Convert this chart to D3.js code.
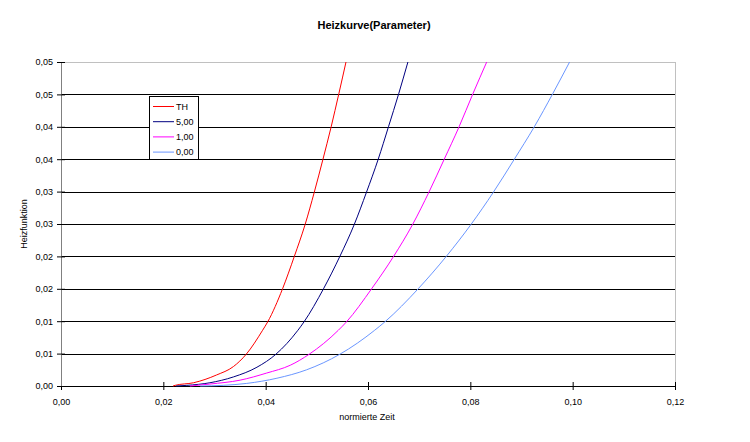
<!DOCTYPE html>
<html>
<head>
<meta charset="utf-8">
<script src="https://cdn.jsdelivr.net/npm/d3@7"></script>
<style>
  body { margin: 0; background: #ffffff; }
  text { font-family: "Liberation Sans", Arial, sans-serif; }
</style>
</head>
<body>
<div id="chart"></div>
<script>
//Data
var seriesNames = ["TH", "5,00", "1,00", "0,00"];
var seriesColors = ["#ff0000", "#000080", "#ff00ff", "#6a96ff"];

var xTH = [0.0219, 0.0223, 0.0259, 0.0304, 0.0337, 0.0362, 0.0394, 0.0404, 0.0433, 0.0456, 0.0477, 0.0495, 0.0512, 0.0528, 0.0543, 0.0557];
var yTH = [0, 0.0001, 0.0005, 0.0017, 0.0030, 0.0049, 0.0086, 0.0099, 0.0150, 0.0200, 0.0249, 0.0299, 0.0350, 0.0400, 0.0451, 0.0500];

var x500 = [0.0225, 0.0246, 0.0291, 0.0337, 0.0383, 0.0420, 0.0463, 0.0475, 0.0513, 0.0545, 0.0573, 0.0597, 0.0620, 0.0640, 0.0660, 0.0678];
var y500 = [0, 0.0001, 0.0005, 0.0014, 0.0029, 0.0049, 0.0086, 0.0099, 0.0150, 0.0200, 0.0249, 0.0299, 0.0350, 0.0400, 0.0451, 0.0500];

var x100 = [0.0252, 0.0291, 0.0350, 0.0402, 0.0448, 0.0485, 0.0542, 0.0558, 0.0607, 0.0650, 0.0687, 0.0719, 0.0749, 0.0778, 0.0805, 0.0832];
var y100 = [0, 0.0003, 0.0009, 0.0020, 0.0032, 0.0049, 0.0086, 0.0099, 0.0150, 0.0200, 0.0249, 0.0299, 0.0350, 0.0400, 0.0451, 0.0500];

var x000 = [0.0272, 0.0317, 0.0363, 0.0422, 0.0480, 0.0545, 0.0613, 0.0633, 0.0698, 0.0753, 0.0801, 0.0845, 0.0886, 0.0925, 0.0961, 0.0994];
var y000 = [0, 0.0001, 0.0004, 0.0012, 0.0025, 0.0049, 0.0086, 0.0099, 0.0150, 0.0200, 0.0249, 0.0299, 0.0350, 0.0400, 0.0451, 0.0500];

var xTicks = [0, 0.02, 0.04, 0.06, 0.08, 0.10, 0.12];
var xTickLabels = ["0,00", "0,02", "0,04", "0,06", "0,08", "0,10", "0,12"];
var yTicks = [0, 0.005, 0.01, 0.015, 0.02, 0.025, 0.03, 0.035, 0.04, 0.045, 0.05];
var yTickLabels = ["0,00", "0,01", "0,01", "0,02", "0,02", "0,03", "0,03", "0,04", "0,04", "0,05", "0,05"];

var series = [
  { name: seriesNames[0], xs: xTH, ys: yTH },
  { name: seriesNames[1], xs: x500, ys: y500 },
  { name: seriesNames[2], xs: x100, ys: y100 },
  { name: seriesNames[3], xs: x000, ys: y000 }
].map(function (s, i) {
  return { name: s.name, color: seriesColors[i], points: s.xs.map(function (x, j) { return [x, s.ys[j]]; }) };
});

var width = 750, height = 442;
var plot = { left: 61, right: 675, top: 62, bottom: 386 };

var svg = d3.select("#chart").append("svg")
  .attr("width", width)
  .attr("height", height);

var x = d3.scaleLinear().domain([0, 0.12]).range([plot.left, plot.right]);
var y = d3.scaleLinear().domain([0, 0.05]).range([plot.bottom, plot.top]);

//Plot frame and gridlines
svg.append("line")
  .attr("x1", plot.left).attr("x2", plot.right)
  .attr("y1", plot.top + 0.5).attr("y2", plot.top + 0.5)
  .attr("stroke", "#c0c0c0");
svg.append("line")
  .attr("x1", plot.right + 0.5).attr("x2", plot.right + 0.5)
  .attr("y1", plot.top).attr("y2", plot.bottom)
  .attr("stroke", "#c0c0c0");

svg.append("g")
  .selectAll("line")
  .data(yTicks.slice(1, -1)).enter()
  .append("line")
  .attr("x1", plot.left).attr("x2", plot.right)
  .attr("y1", function (d) { return Math.round(y(d)) + 0.5; })
  .attr("y2", function (d) { return Math.round(y(d)) + 0.5; })
  .attr("stroke", "#000000");

//Axes
var xAxis = d3.axisBottom(x)
  .tickValues(xTicks)
  .tickSize(4)
  .tickFormat(function (d, i) { return xTickLabels[i]; });
var gx = svg.append("g")
  .attr("transform", "translate(0," + plot.bottom + ")")
  .call(xAxis);
gx.select(".domain").attr("stroke", "#000000");
gx.selectAll(".tick line").attr("y1", -4).attr("stroke", "#000000");
gx.selectAll(".tick text")
  .attr("y", 13)
  .style("font-size", "9px")
  .style("font-family", "'Liberation Sans', Arial, sans-serif")
  .attr("fill", "#000000");

var yAxis = d3.axisLeft(y)
  .tickValues(yTicks)
  .tickSize(4)
  .tickFormat(function (d, i) { return yTickLabels[i]; });
var gy = svg.append("g")
  .attr("transform", "translate(" + plot.left + ",0)")
  .call(yAxis);
gy.select(".domain").attr("stroke", "#808080");
gy.selectAll(".tick line").attr("x1", 4).attr("stroke", "#000000");
gy.selectAll(".tick text")
  .attr("x", -8)
  .style("font-size", "9px")
  .style("font-family", "'Liberation Sans', Arial, sans-serif")
  .attr("fill", "#000000");

//Curves
var line = d3.line()
  .x(function (d) { return x(d[0]); })
  .y(function (d) { return y(d[1]); })
  .curve(d3.curveMonotoneX);

svg.selectAll(".curve")
  .data(series).enter()
  .append("path")
  .attr("class", "curve")
  .attr("d", function (d) { return line(d.points); })
  .attr("fill", "none")
  .attr("stroke", function (d) { return d.color; })
  .attr("stroke-width", 1);

//Titles
svg.append("text")
  .attr("x", 374).attr("y", 29)
  .attr("text-anchor", "middle")
  .style("font-size", "11px")
  .style("font-weight", "bold")
  .text("Heizkurve(Parameter)");

svg.append("text")
  .attr("x", 367).attr("y", 420)
  .attr("text-anchor", "middle")
  .style("font-size", "9px")
  .text("normierte Zeit");

svg.append("text")
  .attr("transform", "translate(27,224) rotate(-90)")
  .attr("text-anchor", "middle")
  .style("font-size", "9px")
  .text("Heizfunktion");

//Legend
var legend = svg.append("g").attr("transform", "translate(149,96)");
legend.append("rect")
  .attr("x", 0.5).attr("y", 0.5)
  .attr("width", 49).attr("height", 63)
  .attr("fill", "#ffffff")
  .attr("stroke", "#000000");

var items = legend.selectAll(".legend")
  .data(series).enter()
  .append("g").attr("class", "legend")
  .attr("transform", function (d, i) { return "translate(0," + (10.5 + i * 15.2) + ")"; });

items.append("line")
  .attr("x1", 4).attr("x2", 25)
  .attr("stroke", function (d) { return d.color; });
items.append("text")
  .attr("x", 27).attr("dy", ".35em")
  .style("font-size", "9px")
  .text(function (d) { return d.name; });
</script>
</body>
</html>
